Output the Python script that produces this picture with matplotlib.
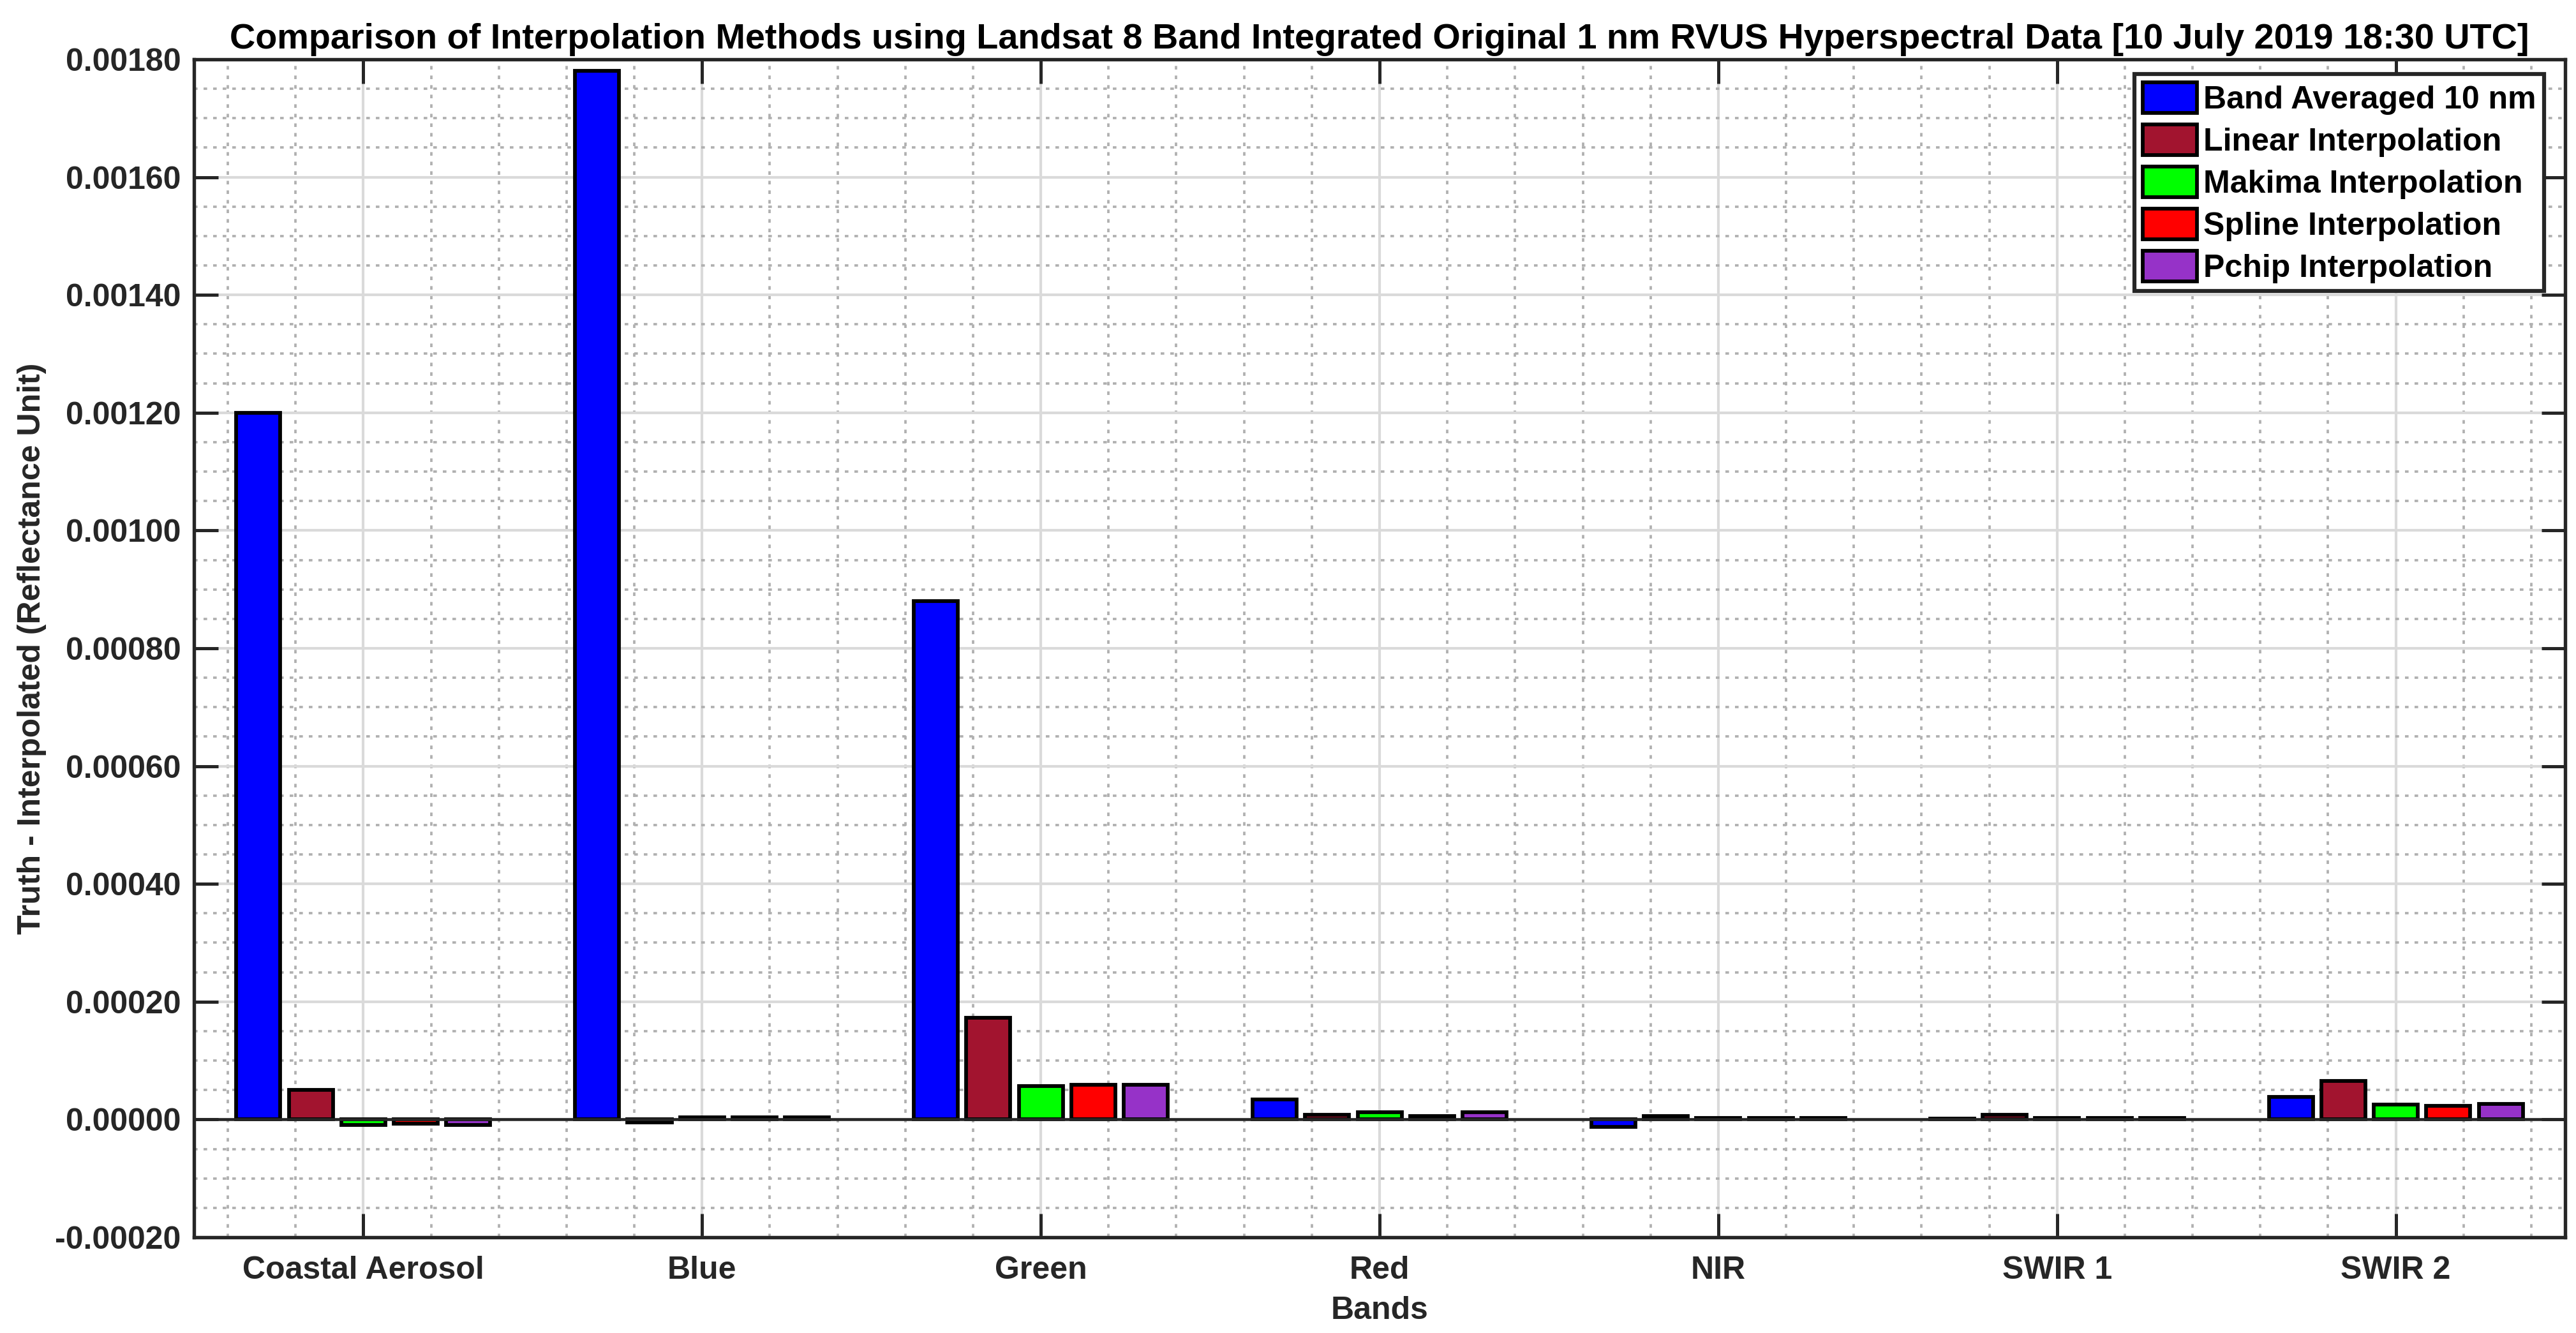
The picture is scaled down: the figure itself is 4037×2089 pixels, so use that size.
import numpy as np
import matplotlib.pyplot as plt
from matplotlib.ticker import MultipleLocator, FormatStrFormatter

plt.rcParams['font.family'] = ['Liberation Sans', 'DejaVu Sans']
plt.rcParams['font.weight'] = 'bold'

# data
bands = ['Coastal Aerosol', 'Blue', 'Green', 'Red', 'NIR', 'SWIR 1', 'SWIR 2']
seriesNames = ['Band Averaged 10 nm', 'Linear Interpolation', 'Makima Interpolation',
               'Spline Interpolation', 'Pchip Interpolation']
bandAveraged = [0.00120, 0.00178, 0.00088, 0.000034, -0.000013, 0.000002, 0.000038]
linearInterp = [0.000050, -0.000005, 0.000173, 0.000008, 0.000006, 0.000008, 0.000065]
makimaInterp = [-0.000009, 0.000004, 0.000057, 0.000012, 0.000003, 0.000003, 0.000025]
splineInterp = [-0.000007, 0.000004, 0.000059, 0.000006, 0.000003, 0.000003, 0.000023]
pchipInterp = [-0.000009, 0.000004, 0.000059, 0.000012, 0.000003, 0.000003, 0.000026]
seriesValues = [bandAveraged, linearInterp, makimaInterp, splineInterp, pchipInterp]

# styles
colors = ['#0000FF', '#A2142F', '#00FF00', '#FF0000', '#9632C8']
barPitch = 0.155
barWidth = 0.13
textColor = '#262626'
fontSize = 12

fig = plt.figure(figsize = (4037 / 300, 2089 / 300), dpi = 300)
ax = fig.add_axes([0.0753, 0.0718, 0.9205, 0.8837])

x = np.arange(1, len(bands) + 1)
nSeries = len(seriesValues)
for i, (name, values, color) in enumerate(zip(seriesNames, seriesValues, colors)):
    offset = (i - (nSeries - 1) / 2) * barPitch
    ax.bar(x + offset, values, width = barWidth, color = color, edgecolor = 'black',
           linewidth = 1.4, label = name, zorder = 3)

ax.axhline(0, color = textColor, lw = 1.1, zorder = 4)

ax.set_xlim(0.5, 7.5)
ax.set_ylim(-0.0002, 0.0018)
ax.set_xticks(x)
ax.set_xticklabels(bands)
ax.xaxis.set_minor_locator(MultipleLocator(0.2))
ax.yaxis.set_major_locator(MultipleLocator(0.0002))
ax.yaxis.set_minor_locator(MultipleLocator(0.00005))
ax.yaxis.set_major_formatter(FormatStrFormatter('%.5f'))

ax.grid(True, which = 'major', color = '#DADADA', lw = 1.0, zorder = 0)
ax.grid(True, which = 'minor', color = '#B0B0B0', lw = 0.9, ls = (0, (1.5, 2.5)), zorder = 0)
ax.set_axisbelow(True)

ax.tick_params(which = 'major', direction = 'in', length = 9, width = 1.2,
               top = True, right = True, labelsize = fontSize, colors = textColor, pad = 5)
ax.tick_params(axis = 'x', which = 'major', pad = 7)
ax.tick_params(which = 'minor', length = 0)
for lab in ax.get_xticklabels() + ax.get_yticklabels():
    lab.set_fontweight('bold')
for spine in ax.spines.values():
    spine.set_linewidth(1.3)
    spine.set_color(textColor)

ax.set_xlabel('Bands', fontsize = fontSize, fontweight = 'bold', color = textColor, labelpad = 4)
ax.set_ylabel('Truth - Interpolated (Reflectance Unit)', fontsize = fontSize,
              fontweight = 'bold', color = textColor, labelpad = 3)
ax.set_title('Comparison of Interpolation Methods using Landsat 8 Band Integrated Original 1 nm '
             'RVUS Hyperspectral Data [10 July 2019 18:30 UTC]',
             fontsize = 13.4, fontweight = 'bold', pad = 4)

leg = ax.legend(loc = 'upper right', bbox_to_anchor = (0.991, 0.9875), fontsize = fontSize,
                frameon = True, fancybox = False, framealpha = 1, edgecolor = textColor,
                handlelength = 1.7, handleheight = 1.1, handletextpad = 0.2,
                labelspacing = 0.3, borderpad = 0.25, borderaxespad = 0)
leg.get_frame().set_linewidth(1.5)
for t in leg.get_texts():
    t.set_fontweight('bold')
leg.set_zorder(5)

plt.savefig('out.png', dpi = 300)
